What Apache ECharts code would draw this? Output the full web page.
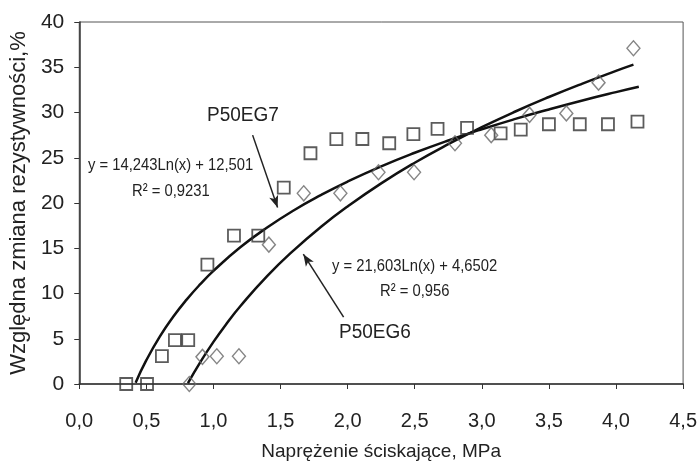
<!DOCTYPE html>
<html><head><meta charset="utf-8">
<script src="https://cdn.jsdelivr.net/npm/echarts@6/dist/echarts.min.js"></script>
<style>html,body{margin:0;padding:0;background:#fff}#c{width:700px;height:468px}</style>
</head><body><div id="c"></div>
<script>
// P50EG7 measured points (squares)
const eg7X = [0.35, 0.505, 0.616, 0.713, 0.812, 0.955, 1.153, 1.334, 1.524, 1.723, 1.916, 2.11, 2.31, 2.49, 2.67, 2.89, 3.14, 3.29, 3.50, 3.73, 3.94, 4.16];
const eg7Y = [0, 0, 3.07, 4.84, 4.84, 13.2, 16.4, 16.4, 21.7, 25.5, 27.05, 27.07, 26.6, 27.6, 28.2, 28.3, 27.7, 28.1, 28.7, 28.7, 28.7, 29.0];
// P50EG6 measured points (diamonds)
const eg6X = [0.82, 0.918, 1.025, 1.19, 1.413, 1.673, 1.946, 2.23, 2.495, 2.80, 3.07, 3.356, 3.63, 3.87, 4.13];
const eg6Y = [0, 3.0, 3.07, 3.07, 15.4, 21.07, 21.07, 23.4, 23.4, 26.6, 27.5, 29.74, 29.9, 33.3, 37.1];
// trend line P50EG7
const fit7X = [0.42, 0.5, 0.6, 0.7, 0.8, 0.9, 1.0, 1.2, 1.4, 1.6, 1.8, 2.0, 2.25, 2.5, 2.75, 3.0, 3.25, 3.5, 3.75, 4.0, 4.17];
const fit7Y = [0.15, 2.63, 5.23, 7.42, 9.32, 11.0, 12.5, 15.1, 17.29, 19.2, 20.87, 22.37, 24.05, 25.55, 26.91, 28.15, 29.29, 30.34, 31.33, 32.25, 32.84];
// trend line P50EG6
const fit6X = [0.81, 0.9, 1.0, 1.1, 1.2, 1.4, 1.6, 1.8, 2.0, 2.25, 2.5, 2.75, 3.0, 3.25, 3.5, 3.75, 4.0, 4.13];
const fit6Y = [0.1, 2.37, 4.65, 6.71, 8.59, 11.92, 14.8, 17.35, 19.62, 22.17, 24.45, 26.5, 28.38, 30.11, 31.71, 33.2, 34.6, 35.29];
// annotations
const arrow7 = [[1.292, 27.5], [1.478, 19.5]];
const arrow6 = [[1.97, 7.4], [1.67, 14.35]];
const xTitle = 'Naprężenie ściskające, MPa';
const yTitle = 'Względna zmiana rezystywności,%';

const zip = (a, b) => a.map((v, i) => [v, b[i]]);
const fmt = v => v.toFixed(1).replace('.', ',');
const FONT = '"Liberation Sans", Arial, sans-serif';
const TXT = '#222';

const chart = echarts.init(document.getElementById('c'), null, {renderer: 'canvas'});
chart.setOption({
  backgroundColor: '#fff',
  animation: false,
  grid: {left: 78, top: 22, right: 16, bottom: 84, show: true, borderColor: '#555', borderWidth: 1},
  xAxis: {
    type: 'value', min: 0, max: 4.5, interval: 0.5,
    name: xTitle, nameLocation: 'middle', nameGap: 58,
    nameTextStyle: {fontFamily: FONT, fontSize: 19, color: TXT},
    axisLine: {lineStyle: {color: '#333', width: 1.5}},
    axisTick: {show: true, inside: false, length: 5, lineStyle: {color: '#333'}},
    axisLabel: {fontFamily: FONT, fontSize: 20, color: TXT, margin: 27, formatter: fmt},
    splitLine: {show: false}
  },
  yAxis: {
    type: 'value', min: 0, max: 40, interval: 5,
    name: yTitle, nameLocation: 'middle', nameGap: 44,
    nameTextStyle: {fontFamily: FONT, fontSize: 22, color: TXT},
    axisLine: {show: true, lineStyle: {color: '#333', width: 1.5}},
    axisTick: {show: true, inside: false, length: 5, lineStyle: {color: '#333'}},
    axisLabel: {fontFamily: FONT, fontSize: 21, color: TXT, margin: 15},
    splitLine: {show: false}
  },
  series: [
    {type: 'line', data: zip(fit7X, fit7Y), smooth: true, symbol: 'none', lineStyle: {color: '#111', width: 2.5}, z: 3},
    {type: 'line', data: zip(fit6X, fit6Y), smooth: true, symbol: 'none', lineStyle: {color: '#111', width: 2.5}, z: 3,
     markLine: {silent: true, symbol: ['none', 'arrow'], symbolSize: [7, 12], label: {show: false},
       lineStyle: {color: '#222', width: 1.5, type: 'solid'},
       data: [
         [{coord: arrow7[0]}, {coord: arrow7[1]}],
         [{coord: arrow6[0]}, {coord: arrow6[1]}]
       ]}},
    {type: 'scatter', data: zip(eg7X, eg7Y), symbol: 'rect', symbolSize: 12,
     itemStyle: {color: 'rgba(255,255,255,0)', borderColor: '#333', borderWidth: 1.8}, z: 4},
    {type: 'scatter', data: zip(eg6X, eg6Y), symbol: 'diamond', symbolSize: [13, 15],
     itemStyle: {color: 'rgba(255,255,255,0)', borderColor: '#666', borderWidth: 1.4}, z: 4}
  ],
  graphic: [
    {type: 'text', x: 207, y: 105, scaleX: 0.95, style: {text: 'P50EG7', font: '20px ' + FONT, fill: TXT}},
    {type: 'text', x: 88, y: 157, scaleX: 0.87, style: {text: 'y = 14,243Ln(x) + 12,501', font: '17px ' + FONT, fill: TXT}},
    {type: 'text', x: 132, y: 183, scaleX: 0.87, style: {text: 'R² = 0,9231', font: '17px ' + FONT, fill: TXT}},
    {type: 'text', x: 332, y: 258, scaleX: 0.87, style: {text: 'y = 21,603Ln(x) + 4,6502', font: '17px ' + FONT, fill: TXT}},
    {type: 'text', x: 380, y: 283, scaleX: 0.87, style: {text: 'R² = 0,956', font: '17px ' + FONT, fill: TXT}},
    {type: 'text', x: 339, y: 322, scaleX: 0.95, style: {text: 'P50EG6', font: '20px ' + FONT, fill: TXT}}
  ]
});
</script></body></html>
